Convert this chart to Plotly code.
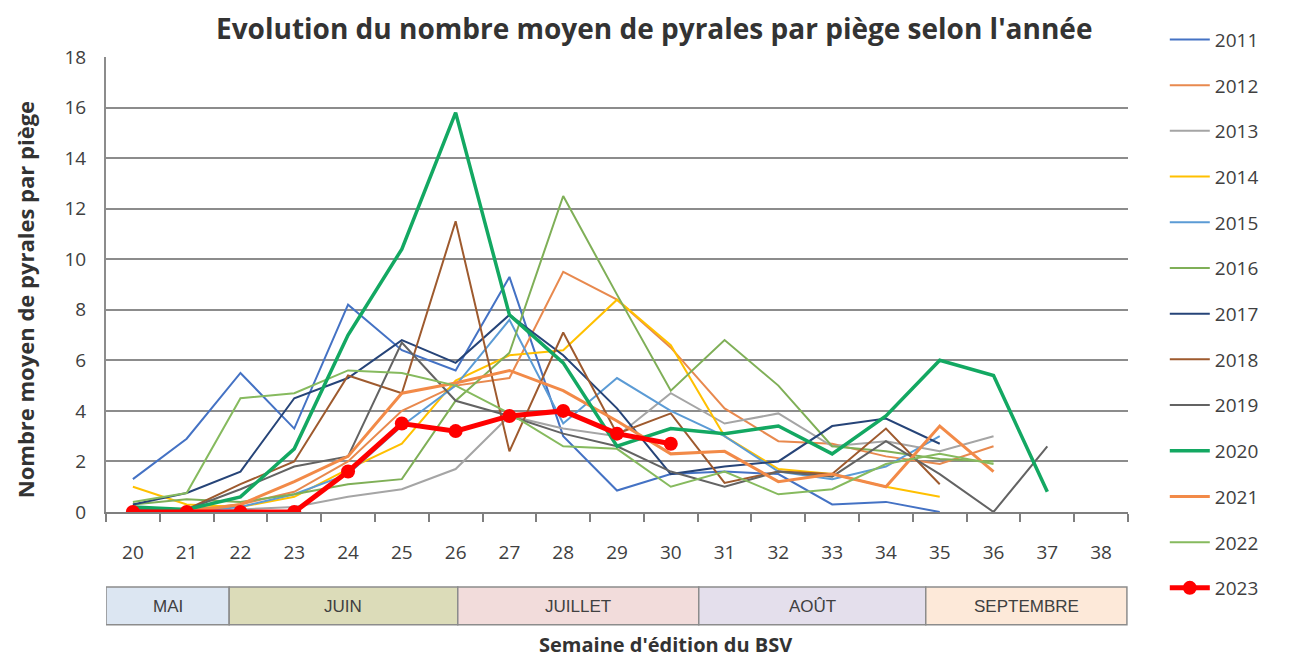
import plotly.graph_objects as go

weeks = [str(w) for w in range(20, 39)]  # 20..38 categories

s2011 = [1.3, 2.9, 5.5, 3.3, 8.2, 6.4, 5.6, 9.3, 3.0, 0.85, 1.5, 1.6, 1.5, 0.3, 0.4, 0.0, None, None]
s2012 = [0.0, 0.1, 0.3, 0.8, 2.0, 4.0, 5.0, 5.3, 9.5, 8.4, 6.5, 4.1, 2.8, 2.7, 2.2, 1.9, 2.6, None]
s2013 = [0.0, 0.0, 0.1, 0.2, 0.6, 0.9, 1.7, 3.8, 3.3, 3.0, 4.7, 3.5, 3.9, 2.6, 2.8, 2.4, 3.0, None]
s2014 = [1.0, 0.3, 0.2, 0.6, 1.7, 2.7, 5.2, 6.2, 6.4, 8.4, 6.6, 3.0, 1.7, 1.5, 1.0, 0.6, None, None]
s2015 = [0.0, 0.0, 0.2, 0.7, 1.5, 3.4, 5.0, 7.6, 3.5, 5.3, 4.0, 3.0, 1.6, 1.3, 1.8, 3.0, None, None]
s2016 = [0.3, 0.5, 0.4, 0.7, 1.1, 1.3, 4.4, 6.3, 12.5, 8.6, 4.8, 6.8, 5.0, 2.6, 2.4, 2.1, 2.0, None]
s2017 = [0.3, 0.75, 1.6, 4.5, 5.3, 6.8, 5.9, 7.8, 6.2, 4.1, 1.5, 1.8, 2.0, 3.4, 3.7, 2.7, None, None]
s2018 = [0.0, 0.1, 1.1, 2.0, 5.4, 4.7, 11.5, 2.4, 7.1, 3.1, 3.9, 1.15, 1.6, 1.5, 3.3, 1.1, None, None]
s2019 = [0.1, 0.1, 0.9, 1.8, 2.2, 6.7, 4.4, 3.8, 3.1, 2.6, 1.6, 1.0, 1.6, 1.4, 2.8, 1.5, 0.0, 2.6]
s2020 = [0.2, 0.1, 0.6, 2.5, 7.0, 10.4, 15.8, 7.8, 5.9, 2.6, 3.3, 3.1, 3.4, 2.3, 3.8, 6.0, 5.4, 0.8]
s2021 = [0.0, 0.0, 0.3, 1.2, 2.2, 4.7, 5.1, 5.6, 4.8, 3.6, 2.3, 2.4, 1.2, 1.5, 1.0, 3.4, 1.6, None]
s2022 = [0.4, 0.75, 4.5, 4.7, 5.6, 5.5, 5.0, 3.9, 2.6, 2.5, 1.0, 1.6, 0.7, 0.9, 1.9, 2.3, 1.9, None]
s2023 = [0.0, 0.0, 0.0, 0.0, 1.6, 3.5, 3.2, 3.8, 4.0, 3.1, 2.7, None, None, None, None, None, None, None]

years = ["2011", "2012", "2013", "2014", "2015", "2016", "2017", "2018",
         "2019", "2020", "2021", "2022", "2023"]
series = [s2011, s2012, s2013, s2014, s2015, s2016, s2017, s2018,
          s2019, s2020, s2021, s2022, s2023]

months = ["MAI", "JUIN", "JUILLET", "AOÛT", "SEPTEMBRE"]

# styles (kept apart from data)
colors = ["#4472C4", "#E8894E", "#A5A5A5", "#FFC000", "#5B9BD5", "#7FAF57",
          "#264478", "#9E5A2E", "#636363", "#13A862", "#F28A48", "#86BA5E", "#FF0000"]
widths = [2, 2, 2, 2, 2, 2, 2, 2, 2, 3.5, 3, 2, 5]
month_edges = [-0.5, 1.79, 6.04, 10.52, 14.74, 18.48]
month_colors = ["#DCE6F2", "#DCDCB9", "#F2DCDB", "#E4DFEC", "#FDE9D9"]

fig = go.Figure()
order = [0, 1, 2, 3, 4, 5, 6, 7, 8, 10, 11, 9, 12]
for i in order:
    is23 = years[i] == "2023"
    fig.add_trace(go.Scatter(
        x=weeks[:len(series[i])], y=series[i], name=years[i],
        mode="lines+markers" if is23 else "lines",
        line=dict(color=colors[i], width=widths[i]),
        marker=dict(size=14, color=colors[i]) if is23 else None,
        connectgaps=False, legendgroup=years[i], legendrank=i + 1,
    ))

font_main = "'Open Sans', Lato, sans-serif"

shapes = []
annotations = []
for k, m in enumerate(months):
    shapes.append(dict(type="rect", xref="x", yref="paper",
                       x0=month_edges[k], x1=month_edges[k + 1], y0=-0.248, y1=-0.165,
                       fillcolor=month_colors[k], line=dict(color="#8C8C8C", width=1.5),
                       layer="above"))
    annotations.append(dict(x=(month_edges[k] + month_edges[k + 1]) / 2, xref="x",
                            y=-0.2066, yref="paper", yanchor="middle", text=m, showarrow=False,
                            font=dict(family="'Liberation Sans Narrow', 'Arial Narrow', sans-serif",
                                      size=17, color="#404040")))

annotations.append(dict(text="<b>Evolution du nombre moyen de pyrales par piège selon l'année</b>",
                        x=0.536, y=1.064, xref="paper", yref="paper", showarrow=False,
                        yanchor="middle",
                        font=dict(family=font_main, size=28, color="#333333")))
annotations.append(dict(text="<b>Semaine d'édition du BSV</b>",
                        x=0.547, y=-0.292, xref="paper", yref="paper", showarrow=False,
                        yanchor="middle",
                        font=dict(family=font_main, size=20, color="#333333")))
annotations.append(dict(text="<b>Nombre moyen de pyrales par piège</b>",
                        x=-0.079, y=0.466, xref="paper", yref="paper", showarrow=False,
                        textangle=-90, xanchor="center", yanchor="middle",
                        font=dict(family=font_main, size=22, color="#333333")))

# page body has an 8px margin: compensate so the plot area lands at the target pixels
fig.update_layout(
    width=1281, height=653,
    margin=dict(l=98, r=161, t=49, b=149, autoexpand=False),
    paper_bgcolor="white", plot_bgcolor="white",
    font=dict(family=font_main, size=19, color="#404040"),
    showlegend=True,
    legend=dict(x=1.036, y=1.08, xanchor="left", yanchor="top",
                font=dict(size=19, color="#404040"), tracegroupgap=18,
                bgcolor="rgba(0,0,0,0)", itemwidth=40, maxheight=650),
    shapes=shapes, annotations=annotations,
)
fig.update_xaxes(type="category", categoryorder="array", categoryarray=weeks,
                 range=[-0.5, 18.5], tickson="boundaries", ticks="outside",
                 ticklen=8, tickcolor="#7F7F7F", tickwidth=1.5,
                 showline=True, linecolor="#7F7F7F", linewidth=2,
                 showgrid=False, ticklabelstandoff=22, automargin=False,
                 tickfont=dict(size=19, color="#404040"))
fig.update_yaxes(range=[0, 18], dtick=2, showgrid=True, gridcolor="#8C8C8C", gridwidth=2,
                 showline=True, linecolor="#8C8C8C", linewidth=2, ticks="",
                 ticklabelstandoff=14, zeroline=False, automargin=False,
                 tickfont=dict(size=19, color="#404040"))

fig.write_html("out.html")
